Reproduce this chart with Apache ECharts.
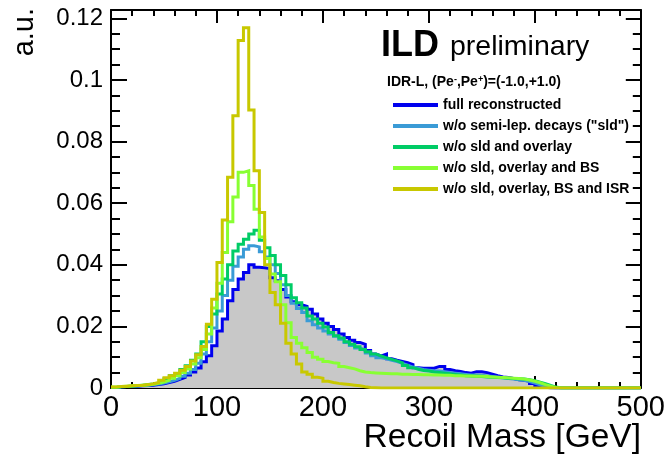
<!DOCTYPE html>
<html><head><meta charset="utf-8">
<script src="https://cdn.jsdelivr.net/npm/echarts@6/dist/echarts.min.js"></script>
<style>html,body{margin:0;padding:0;background:#fff}#c{width:668px;height:456px}</style>
</head><body><div id="c"></div>
<script>
// Histogram binning: 100 bins of 5 GeV from 0 to 500 GeV
const binWidth = 5;
const xMin = 0, xMax = 500, xStep = 100;
const yMin = 0, yMax = 0.1227, yStep = 0.02;

const seriesNames = [
  'full reconstructed',
  'w/o semi-lep. decays ("sld")',
  'w/o sld and overlay',
  'w/o sld, overlay and BS',
  'w/o sld, overlay, BS and ISR'
];
const seriesColors = ['#0000ee', '#3a9bd6', '#00cc66', '#88ff33', '#c8c800'];

const fullReco = [
  0.0002,0.0004,0.0005,0.0005,0.0006,0.0007,0.0008,0.0009,0.0011,0.0014,
  0.0018,0.0022,0.0028,0.0034,0.0042,0.0052,0.0065,0.0085,0.0105,0.0137,
  0.0185,0.0224,0.0283,0.0320,0.0354,0.0375,0.0400,0.0392,0.0390,0.0388,
  0.0358,0.0348,0.0320,0.0295,0.0280,0.0270,0.0265,0.0256,0.0240,0.0224,
  0.0210,0.0200,0.0190,0.0175,0.0164,0.0155,0.0148,0.0142,0.0122,0.0110,
  0.0104,0.0110,0.0095,0.0090,0.0086,0.0082,0.0076,0.0066,0.0064,0.0064,
  0.0064,0.0070,0.0070,0.0060,0.0056,0.0054,0.0050,0.0048,0.0053,0.0053,
  0.0050,0.0045,0.0040,0.0036,0.0034,0.0031,0.0027,0.0025,0.0022,0.0015,
  0.0008,0.0003,0,0,0,0,0,0,0,0,
  0,0,0,0,0,0,0,0,0,0
];
const noSld = [
  0.0002,0.0004,0.0005,0.0006,0.0007,0.0008,0.0009,0.0011,0.0013,0.0016,
  0.0020,0.0025,0.0031,0.0038,0.0048,0.0060,0.0080,0.0110,0.0150,0.0195,
  0.0250,0.0300,0.0350,0.0395,0.0425,0.0450,0.0462,0.0458,0.0442,0.0425,
  0.0400,0.0372,0.0335,0.0300,0.0275,0.0258,0.0245,0.0218,0.0205,0.0195,
  0.0185,0.0175,0.0168,0.0158,0.0148,0.0138,0.0130,0.0124,0.0114,0.0105,
  0.0098,0.0095,0.0090,0.0086,0.0080,0.0074,0.0068,0.0064,0.0060,0.0058,
  0.0056,0.0055,0.0053,0.0050,0.0048,0.0046,0.0044,0.0042,0.0042,0.0041,
  0.0039,0.0037,0.0035,0.0033,0.0031,0.0029,0.0027,0.0025,0.0021,0.0016,
  0.0010,0.0005,0.0002,0,0,0,0,0,0,0,
  0,0,0,0,0,0,0,0,0,0
];
const noOverlay = [
  0.0002,0.0004,0.0005,0.0006,0.0007,0.0009,0.0011,0.0013,0.0016,0.0020,
  0.0030,0.0040,0.0045,0.0060,0.0072,0.0090,0.0110,0.0150,0.0200,0.0240,
  0.0305,0.0354,0.0400,0.0445,0.0467,0.0483,0.0500,0.0512,0.0480,0.0455,
  0.0430,0.0400,0.0365,0.0335,0.0293,0.0277,0.0260,0.0234,0.0224,0.0210,
  0.0198,0.0180,0.0170,0.0162,0.0150,0.0142,0.0134,0.0125,0.0118,0.0110,
  0.0104,0.0098,0.0093,0.0088,0.0082,0.0073,0.0066,0.0061,0.0057,0.0055,
  0.0052,0.0050,0.0048,0.0046,0.0044,0.0042,0.0040,0.0039,0.0038,0.0037,
  0.0036,0.0035,0.0034,0.0033,0.0032,0.0031,0.0030,0.0029,0.0027,0.0024,
  0.0019,0.0014,0.0008,0.0003,0,0,0,0,0,0,
  0,0,0,0,0,0,0,0,0,0
];
const noBS = [
  0.0003,0.0005,0.0006,0.0007,0.0008,0.0009,0.0010,0.0012,0.0015,0.0019,
  0.0025,0.0032,0.0040,0.0050,0.0062,0.0078,0.0098,0.0125,0.0175,0.0260,
  0.0340,0.0440,0.0540,0.0620,0.0700,0.0705,0.0657,0.0580,0.0490,0.0420,
  0.0370,0.0345,0.0270,0.0212,0.0164,0.0145,0.0131,0.0115,0.0100,0.0093,
  0.0086,0.0082,0.0080,0.0070,0.0066,0.0062,0.0056,0.0052,0.0050,0.0049,
  0.0048,0.0047,0.0046,0.0046,0.0045,0.0045,0.0044,0.0044,0.0043,0.0043,
  0.0042,0.0042,0.0041,0.0041,0.0040,0.0040,0.0039,0.0039,0.0038,0.0038,
  0.0037,0.0036,0.0035,0.0034,0.0033,0.0032,0.0031,0.0029,0.0026,0.0022,
  0.0017,0.0011,0.0006,0.0002,0,0,0,0,0,0,
  0,0,0,0,0,0,0,0,0,0
];
const noISR = [
  0.0003,0.0005,0.0006,0.0007,0.0008,0.0009,0.0011,0.0014,0.0018,0.0025,
  0.0033,0.0040,0.0048,0.0058,0.0070,0.0088,0.0108,0.0135,0.0207,0.0288,
  0.0407,0.0545,0.0684,0.0884,0.1128,0.1169,0.0902,0.0705,0.0570,0.0400,
  0.0310,0.0270,0.0210,0.0145,0.0110,0.0078,0.0052,0.0045,0.0035,0.0032,
  0.0022,0.0018,0.0015,0.0013,0.0011,0.0009,0.0007,0.0004,0.0002,0.0001,
  0,0,0,0,0,0,0,0,0,0,
  0,0,0,0,0,0,0,0,0,0,
  0,0,0,0,0,0,0,0,0,0,
  0,0,0,0,0,0,0,0,0,0,
  0,0,0,0,0,0,0,0,0,0
];

const allValues = [fullReco, noSld, noOverlay, noBS, noISR];

function toSteps(vals) {
  const pts = vals.map((v, i) => [i * binWidth, v]);
  pts.push([vals.length * binWidth, vals[vals.length - 1]]);
  return pts;
}

const FONT = '"Liberation Sans", Arial, Helvetica, sans-serif';
const chart = echarts.init(document.getElementById('c'), null, {renderer: 'canvas'});

const axisLineStyle = {color: '#000', width: 2};
const series = allValues.map((vals, k) => ({
  name: seriesNames[k],
  type: 'line',
  step: 'end',
  showSymbol: false,
  symbol: 'none',
  xAxisIndex: 0,
  yAxisIndex: 0,
  data: toSteps(vals),
  color: seriesColors[k],
  itemStyle: {color: seriesColors[k]},
  lineStyle: {color: seriesColors[k], width: 3, join: 'miter'},
  areaStyle: k === 0 ? {color: '#c8c8c8', opacity: 1} : undefined,
  z: 2 + k,
  silent: true,
  animation: false
}));

const option = {
  animation: false,
  backgroundColor: '#fff',
  grid: {left: 111, right: 27, top: 10, bottom: 68, containLabel: false},
  xAxis: [
    {type: 'value', position: 'bottom', min: xMin, max: xMax, interval: xStep,
     axisLine: {show: true, onZero: false, lineStyle: axisLineStyle},
     axisTick: {show: true, inside: true, length: 12, lineStyle: {color: '#000', width: 2}},
     minorTick: {show: true, splitNumber: 5, length: 6, lineStyle: {color: '#000', width: 2}},
     axisLabel: {fontFamily: FONT, fontSize: 29, color: '#000', margin: 5},
     splitLine: {show: false}},
    {type: 'value', position: 'top', min: xMin, max: xMax, interval: xStep,
     axisLine: {show: true, onZero: false, lineStyle: axisLineStyle},
     axisTick: {show: true, inside: true, length: 13, lineStyle: {color: '#000', width: 2}},
     minorTick: {show: true, splitNumber: 5, length: 6, lineStyle: {color: '#000', width: 2}},
     axisLabel: {show: false}, splitLine: {show: false}}
  ],
  yAxis: [
    {type: 'value', position: 'left', min: yMin, max: yMax, interval: yStep,
     axisLine: {show: true, onZero: false, lineStyle: axisLineStyle},
     axisTick: {show: true, inside: true, length: 16, lineStyle: {color: '#000', width: 2}},
     minorTick: {show: true, splitNumber: 4, length: 9, lineStyle: {color: '#000', width: 2}},
     axisLabel: {fontFamily: FONT, fontSize: 24, color: '#000', margin: 8, showMaxLabel: false},
     splitLine: {show: false}},
    {type: 'value', position: 'right', min: yMin, max: yMax, interval: yStep,
     axisLine: {show: true, onZero: false, lineStyle: axisLineStyle},
     axisTick: {show: true, inside: true, length: 15, lineStyle: {color: '#000', width: 2}},
     minorTick: {show: true, splitNumber: 4, length: 8, lineStyle: {color: '#000', width: 2}},
     axisLabel: {show: false}, splitLine: {show: false}}
  ],
  legend: {
    orient: 'vertical', left: 388, top: 93,
    itemWidth: 45, itemHeight: 4, itemGap: 7, icon: 'rect',
    selectedMode: false,
    textStyle: {fontFamily: FONT, fontWeight: 'bold', fontSize: 14, color: '#000', lineHeight: 14},
    data: seriesNames.map((n, k) => ({name: n, itemStyle: {color: seriesColors[k]}}))
  },
  graphic: [
    {type: 'text', left: 381, top: 28, style: {text: 'ILD', font: 'bold 36px ' + FONT, fill: '#000'}},
    {type: 'text', left: 450, top: 33, style: {text: 'preliminary', font: '28.5px ' + FONT, fill: '#000'}},
    {type: 'text', left: 387, top: 75, style: {
      text: 'IDR-L, (Pe{s|-},Pe{s|+})=(-1.0,+1.0)', font: 'bold 14px ' + FONT, fill: '#000',
      rich: {s: {fontSize: 9, fontWeight: 'bold', fontFamily: FONT, verticalAlign: 'top', fill: '#000'}}}},
    {type: 'text', x: 641, y: 438, style: {text: 'Recoil Mass [GeV]', font: '33.5px ' + FONT, fill: '#000', textAlign: 'right', textVerticalAlign: 'middle'}},
    {type: 'text', x: 25, y: 8, rotation: Math.PI / 2, style: {text: 'a.u.', font: '29px ' + FONT, fill: '#000', textAlign: 'right', textVerticalAlign: 'middle'}}
  ],
  series: series
};
chart.setOption(option);
</script>
</body></html>
